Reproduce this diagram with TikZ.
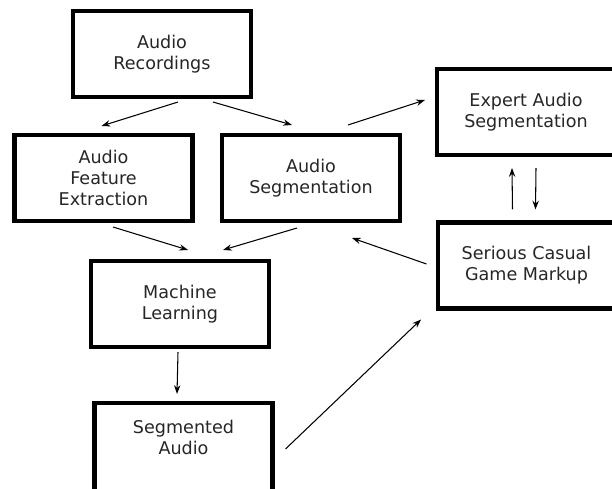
\documentclass[tikz,border=0pt]{standalone}
\usepackage{fontspec}
\setmainfont{DejaVu Sans}
\usepackage{tikz}
\usetikzlibrary{arrows.meta,calc,positioning}
\definecolor{textgrey}{rgb}{0.15,0.15,0.15}

\begin{document}
\begin{tikzpicture}[x=0.02cm,y=-0.02cm,
    box/.style={draw, line width=2.3pt, minimum width=3.56cm, minimum height=1.72cm,
      align=center, font=\fontsize{10}{12}\selectfont, text=textgrey},
    >={Stealth[length=5pt,width=3.6pt]}]
      \clip (0,0) rectangle (612,489);
      \node[box] at (162,54) (0) {Audio\\Recordings};
      \node[box] at (103.5,178) (1) {Audio\\Feature\\Extraction};
      \node[box] at (311,178) (2) {Audio\\Segmentation};
      \node[box] at (526,112) (3) {Expert Audio\\Segmentation};
      \node[box] at (526.5,265.5) (4) {Serious Casual\\Game Markup};
      \node[box] at (180,304) (5) {Machine\\Learning};
      \node[box, minimum height=1.8cm] at (183.5,448) (6) {Segmented\\Audio\\\mbox{}};
      \draw[->, line width=0.6pt] ($(0.south)+(16,3)$) -- ($(1.north)+(-2,-7)$);
      \draw[->, line width=0.6pt] ($(0.south)+(51,3)$) -- ($(2.north)+(-19,-8)$);
      \draw[->, line width=0.6pt] ($(2.north)+(37,-8)$) -- ($(3.west)+(-10,-12)$);
      \draw[->, line width=0.6pt] ($(1.south)+(9.5,4)$) -- ($(5.north)+(8,-9)$);
      \draw[->, line width=0.6pt] ($(2.south)+(-14,5)$) -- ($(5.north)+(43,-9)$);
      \draw[->, line width=0.6pt] ($(4.west)+(-9,-1.5)$) -- ($(2.south)+(41,15)$);
      \draw[->, line width=0.6pt] ($(4.north)+(-14,-11)$) -- ($(3.south)+(-14,11)$);
      \draw[->, line width=0.6pt] ($(3.south)+(10,11)$) -- ($(4.north)+(9,-11)$);
      \draw[->, line width=0.6pt] ($(5.south)+(-2,3)$) -- ($(6.north)+(-6.5,-7)$);
      \draw[->, line width=0.6pt] ($(6.east)+(11,1)$) -- ($(4.south)+(-105.5,9)$);
    \end{tikzpicture}
\end{document}
